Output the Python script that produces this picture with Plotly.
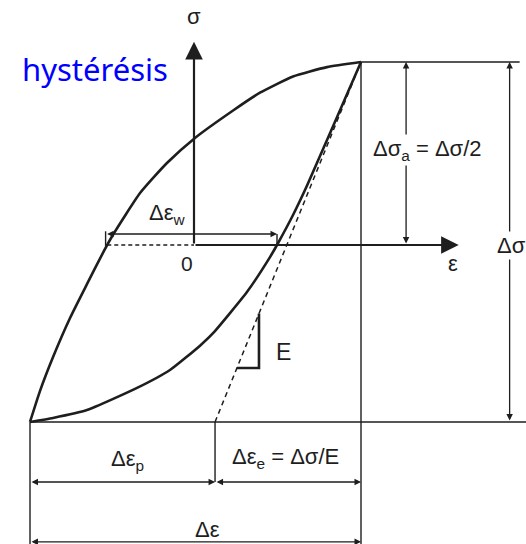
import numpy as np
import plotly.graph_objects as go

# Stabilised stress-strain loop, normalised: eps/eps_a and sigma/sigma_a
eps_upper = [-0.982, -0.922, -0.844, -0.743, -0.641, -0.539, -0.485, -0.323,
             -0.162, 0.006, 0.234, 0.395, 0.593, 0.796, 1.0]
sig_upper = [-0.967, -0.797, -0.612, -0.400, -0.214, -0.032, 0.056, 0.284,
             0.448, 0.585, 0.735, 0.832, 0.921, 0.972, 1.0]
eps_lower = [-0.982, -0.844, -0.641, -0.341, -0.144, 0.036, 0.114, 0.317,
             0.455, 0.497, 0.593, 0.677, 0.832, 1.0]
sig_lower = [-0.967, -0.945, -0.902, -0.781, -0.683, -0.550, -0.482, -0.257,
             -0.066, 0.0, 0.164, 0.325, 0.648, 1.0]
eps_p_end = 0.126          # end of the plastic strain range on the sigma_min line
slope_tri_sigma = -0.672   # base of the slope triangle
slope_tri_width = 0.132

eps_min, eps_max = eps_upper[0], eps_upper[-1]
sig_min, sig_max = sig_upper[0], sig_upper[-1]
E = (sig_max - sig_min) / (eps_max - eps_p_end)

# loop width at sigma = 0
eps_w_left = float(np.interp(0.0, sig_upper, eps_upper))
eps_w_right = float(np.interp(0.0, sig_lower, eps_lower))

INK = "#1e1e1e"
FONT = "Liberation Sans, Arial, sans-serif"

fig = go.Figure()

# loop branches
for ex, sy in ((eps_upper, sig_upper), (eps_lower, sig_lower)):
    fig.add_trace(go.Scatter(x=ex, y=sy, mode="lines",
                             line=dict(color=INK, width=2.6, shape="spline", smoothing=0.5),
                             hoverinfo="skip", showlegend=False))

# elastic unloading line (dashed)
fig.add_trace(go.Scatter(x=[eps_p_end, eps_max], y=[sig_min, sig_max], mode="lines",
                         line=dict(color=INK, width=1.5, dash="5px,4px"),
                         hoverinfo="skip", showlegend=False))

# slope triangle
tri_x0 = eps_p_end + (slope_tri_sigma - sig_min) / E
tri_x1 = tri_x0 + slope_tri_width
tri_ytop = sig_min + (tri_x1 - eps_p_end) * E
fig.add_trace(go.Scatter(x=[tri_x0, tri_x1, tri_x1], y=[slope_tri_sigma, slope_tri_sigma, tri_ytop],
                         mode="lines", line=dict(color=INK, width=2.6),
                         hoverinfo="skip", showlegend=False))

shapes = []


def seg(x0, y0, x1, y1, width=1.4, dash=None):
    ln = dict(color=INK, width=width)
    if dash:
        ln["dash"] = dash
    shapes.append(dict(type="line", xref="x", yref="y", x0=x0, y0=y0, x1=x1, y1=y1,
                       line=ln, layer="below"))


y_bottom = -1.64
seg(eps_max, sig_max, 1.95, sig_max)              # top extension
seg(eps_min, sig_min, 1.99, sig_min)              # bottom extension
seg(eps_max, sig_max, eps_max, y_bottom)          # right witness line
seg(eps_min, sig_min, eps_min, y_bottom)          # left witness line
seg(eps_p_end, sig_min, eps_p_end, -1.295)        # plastic / elastic split
seg(eps_w_left, 0, 0, 0, width=1.4, dash="4px,3px")  # negative strain axis
seg(eps_w_left - 0.01, 0.075, eps_w_left - 0.01, -0.005, width=1.4)
seg(eps_w_right, 0.06, eps_w_right, 0.0, width=1.4)

annotations = []


def arrow(x0, y0, x1, y1, both=True, size=1.0, width=1.3):
    annotations.append(dict(x=x1, y=y1, ax=x0, ay=y0, xref="x", yref="y",
                            axref="x", ayref="y", text="", showarrow=True,
                            arrowhead=2, startarrowhead=2, arrowsize=size,
                            startarrowsize=size, arrowwidth=width, arrowcolor=INK,
                            arrowside="end+start" if both else "end",
                            standoff=0, startstandoff=0))


# coordinate axes
arrow(0, 0, 0, 1.11, both=False, size=1.6, width=2.2)
arrow(0, 0, 1.585, 0, both=False, size=1.6, width=2.2)

# dimension arrows
arrow(1.27, 0, 1.27, sig_max)
arrow(1.89, sig_min, 1.89, sig_max)
arrow(eps_min, -1.295, eps_p_end, -1.295)
arrow(eps_p_end, -1.295, eps_max, -1.295)
arrow(eps_min, -1.622, eps_max, -1.622)
arrow(eps_w_left - 0.01, 0.06, eps_w_right, 0.06)


def label(x, y, text, size=21, bg=None):
    d = dict(x=x, y=y, xref="x", yref="y", text=text, showarrow=False,
             font=dict(family=FONT, size=size, color=INK), xanchor="center", yanchor="middle")
    if bg:
        d["bgcolor"] = bg
    annotations.append(d)


label(0, 1.25, "σ", size=22)
label(1.55, -0.10, "ε", size=22)
label(-0.04, -0.10, "0", size=21)
label(1.40, 0.52, "Δσ<sub>a</sub> = Δσ/2", size=22, bg="white")
label(1.90, 0.0, "Δσ", size=22, bg="white")
label(-0.40, -1.175, "Δε<sub>p</sub>", size=22)
label(0.55, -1.165, "Δε<sub>e</sub> = Δσ/E", size=22)
label(0.08, -1.555, "Δε", size=22)
label(-0.16, 0.17, "Δε<sub>w</sub>", size=22)
label(0.535, -0.585, "E", size=23)

annotations.append(dict(x=20 / 526, y=1 - 69 / 544, xref="paper", yref="paper",
                        text="hystérésis", showarrow=False, xanchor="left", yanchor="middle",
                        font=dict(family="Noto Sans", size=31, color="#0000ff")))

fig.update_layout(
    width=526, height=544,
    margin=dict(l=0, r=0, t=0, b=0),
    paper_bgcolor="white", plot_bgcolor="white",
    xaxis=dict(range=[-194 / 167, 332 / 167], visible=False, fixedrange=True),
    yaxis=dict(range=[(245 - 544) / 183, 245 / 183], visible=False, fixedrange=True),
    shapes=shapes, annotations=annotations,
    showlegend=False,
)

fig.write_html("out.html")
